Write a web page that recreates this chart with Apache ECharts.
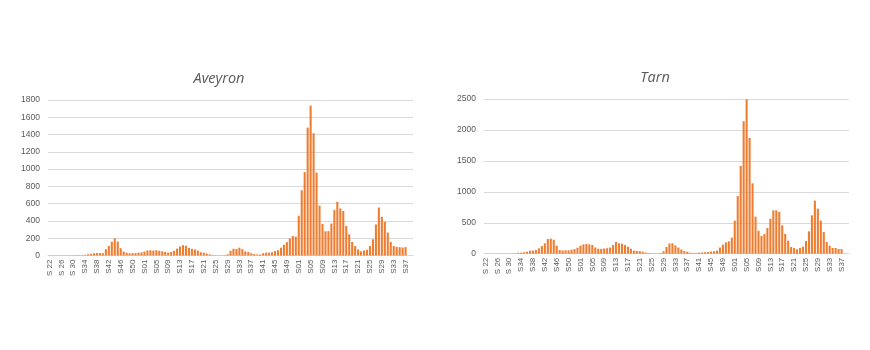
<!DOCTYPE html>
<html>
<head>
<meta charset="utf-8">
<style>
  html, body { margin: 0; padding: 0; background: #ffffff; }
  #chart { width: 870px; height: 350px; }
</style>
<script src="https://cdn.jsdelivr.net/npm/echarts@6/dist/echarts.min.js"></script>
</head>
<body>
<div id="chart"></div>
<script>
// Weekly counts, week 22 of 2020 through week 37 of 2022 (two trailing empty weeks keep the axis width)
function weekRange(from, to, spaced) {
  var out = [];
  for (var w = from; w <= to; w++) {
    var n = w < 10 ? '0' + w : '' + w;
    out.push((spaced && w < 34 ? 'S ' : 'S') + n);
  }
  return out;
}
var weeks = [].concat(
  weekRange(22, 53, true),   // 2020
  weekRange(1, 52, false),   // 2021
  weekRange(1, 39, false)    // 2022
);

var aveyron = [
  2, 2, 2, 2, 3, 3, 3, 3, 3, 4, 4, 5,
  8, 14, 20, 26, 28, 28, 26, 72, 110, 160, 198, 162, 84, 45, 33, 25, 27, 28, 32, 36,
  45, 58, 60, 58, 60, 55, 48, 42, 32, 40, 55, 80, 104, 120, 112, 88, 78, 70, 57, 37,
  33, 22, 14, 6, 4, 3, 3, 4, 14, 55, 78, 76, 90, 74, 47, 39, 26, 16, 12, 12,
  27, 32, 33, 37, 51, 60, 90, 125, 155, 197, 225, 218,
  460, 755, 965, 1480, 1735, 1415, 960, 578, 366, 280, 282, 370, 528, 622, 545, 515,
  342, 245, 156, 110, 70, 48, 58, 66, 110, 188, 360, 555, 448, 390, 266, 156, 110,
  98, 96, 93, 97,
  null, null
];

var tarn = [
  2, 2, 2, 2, 2, 3, 3, 3, 3, 4, 5,
  16, 16, 22, 32, 49, 49, 59, 86, 124, 167, 237, 243, 226, 129, 59, 54, 54, 54, 65, 75, 97,
  129, 151, 156, 151, 140, 100, 80, 78, 84, 88, 100, 140, 192, 168, 162, 140, 113, 80,
  50, 44, 42, 32, 18, 12, 6, 5, 5, 10, 40, 110, 165, 168, 135, 100, 68, 43, 32, 16,
  12, 12, 18, 20, 24, 28, 34, 40, 49, 100, 146, 183, 200, 259,
  534, 933, 1419, 2141, 2495, 1872, 1138, 599, 372, 286, 318, 415, 566, 701, 701, 674,
  458, 318, 210, 108, 92, 70, 92, 113, 205, 361, 620, 858, 728, 534, 351, 189, 129,
  92, 92, 76, 76,
  null, null
];

var titles = ['Aveyron', 'Tarn'];
var yMax = [1800, 2500];
var yStep = [200, 500];

var barColor = '#ED7D31';
var gridColor = '#D9D9D9';
var textColor = '#595959';
var font = 'Liberation Sans';

function xAxisFor(gi) {
  return {
    type: 'category',
    gridIndex: gi,
    data: weeks,
    boundaryGap: true,
    axisLine: { show: true, lineStyle: { color: gridColor, width: 1 } },
    axisTick: { show: false },
    axisLabel: {
      interval: 3,
      rotate: 90,
      fontSize: 8,
      fontFamily: font,
      color: textColor,
      margin: 4
    }
  };
}

function yAxisFor(gi) {
  return {
    type: 'value',
    gridIndex: gi,
    min: 0,
    max: yMax[gi],
    interval: yStep[gi],
    axisLine: { show: false },
    axisTick: { show: false },
    splitLine: { lineStyle: { color: gridColor, width: 1 } },
    axisLabel: {
      fontSize: 8.5,
      fontFamily: font,
      color: textColor,
      margin: 8,
      formatter: function (v) { return String(v); }
    }
  };
}

function barSeries(gi, values) {
  return {
    type: 'bar',
    xAxisIndex: gi,
    yAxisIndex: gi,
    data: values,
    barCategoryGap: '30%',
    itemStyle: { color: barColor },
    silent: true
  };
}

var chart = echarts.init(document.getElementById('chart'), null, { renderer: 'canvas' });
chart.setOption({
  animation: false,
  backgroundColor: '#ffffff',
  grid: [
    { left: 48, top: 100, width: 365, height: 155.5 },
    { left: 484, top: 99, width: 365, height: 154.7 }
  ],
  xAxis: [xAxisFor(0), xAxisFor(1)],
  yAxis: [yAxisFor(0), yAxisFor(1)],
  series: [barSeries(0, aveyron), barSeries(1, tarn)],
  graphic: [
    {
      type: 'text', x: 219, y: 79,
      style: {
        text: titles[0], fill: textColor,
        font: 'italic 14.5px "Open Sans"',
        textAlign: 'center', textVerticalAlign: 'middle'
      }
    },
    {
      type: 'text', x: 655, y: 78,
      style: {
        text: titles[1], fill: textColor,
        font: 'italic 14.5px "Open Sans"',
        textAlign: 'center', textVerticalAlign: 'middle'
      }
    }
  ]
});
</script>
</body>
</html>
